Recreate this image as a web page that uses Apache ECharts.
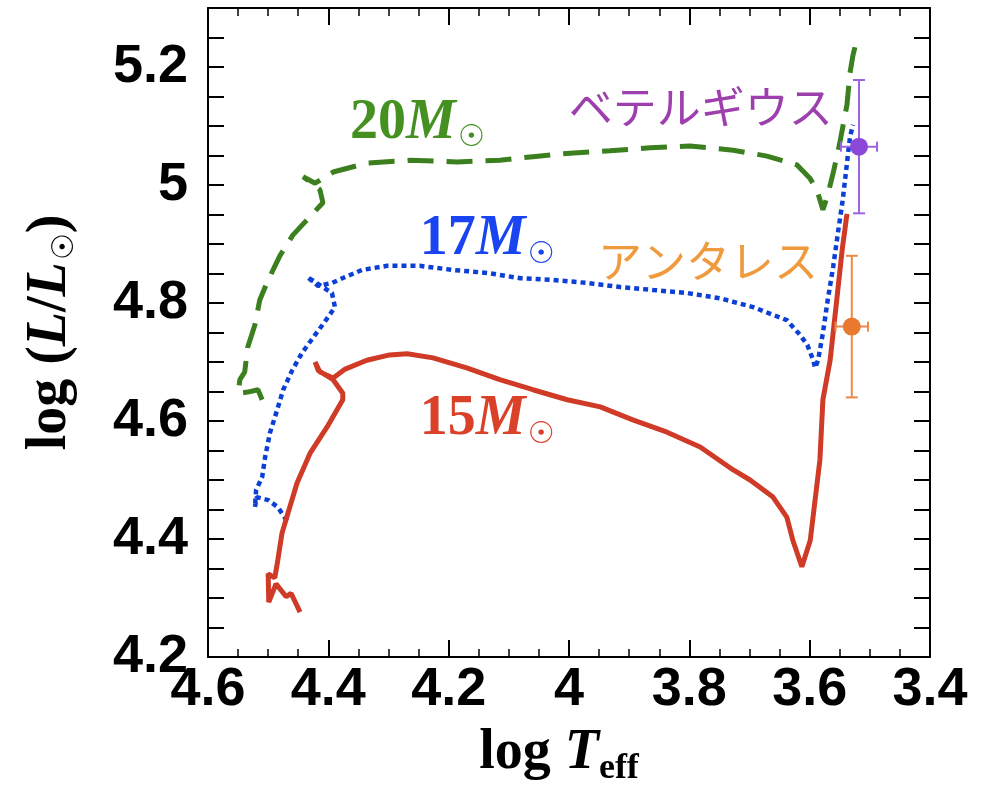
<!DOCTYPE html>
<html>
<head>
<meta charset="utf-8">
<script src="https://cdn.jsdelivr.net/npm/echarts@6/dist/echarts.min.js"></script>
<style>
  html, body { margin: 0; padding: 0; background: #fff; }
  #chart { width: 994px; height: 800px; }
</style>
</head>
<body>
<div id="chart"></div>
<script>
// Evolutionary tracks: log Teff and log(L/Lsun) along each track
const logT15 = [4.447, 4.462, 4.470, 4.487, 4.499, 4.500, 4.489, 4.484, 4.477, 4.467,
  4.452, 4.430, 4.402, 4.376, 4.376, 4.392, 4.417, 4.422, 4.414, 4.392,
  4.372, 4.336, 4.298, 4.269, 4.226, 4.170, 4.115, 4.060, 4.003, 3.948,
  3.894, 3.837, 3.782, 3.727, 3.699, 3.661, 3.638, 3.628, 3.613, 3.599,
  3.591, 3.583, 3.578, 3.566, 3.555, 3.546, 3.538];
const logL15 = [4.276, 4.308, 4.302, 4.324, 4.293, 4.341, 4.334, 4.364, 4.410, 4.444,
  4.495, 4.546, 4.590, 4.636, 4.647, 4.670, 4.686, 4.700, 4.683, 4.673,
  4.688, 4.703, 4.712, 4.714, 4.707, 4.690, 4.670, 4.653, 4.636, 4.624,
  4.602, 4.581, 4.556, 4.517, 4.500, 4.471, 4.437, 4.398, 4.353, 4.398,
  4.466, 4.534, 4.636, 4.703, 4.805, 4.890, 4.951];

const logT17 = [4.469, 4.484, 4.500, 4.519, 4.522, 4.520, 4.510, 4.505, 4.497, 4.485,
  4.475, 4.460, 4.444, 4.422, 4.406, 4.389, 4.394, 4.406, 4.435, 4.417,
  4.394, 4.372, 4.344, 4.302, 4.248, 4.193, 4.136, 4.081, 4.027, 3.970,
  3.915, 3.860, 3.804, 3.749, 3.694, 3.638, 3.616, 3.604, 3.594, 3.591,
  3.586, 3.578, 3.570, 3.561, 3.553, 3.545, 3.538, 3.533, 3.528];
const logL17 = [4.431, 4.454, 4.466, 4.471, 4.454, 4.483, 4.505, 4.539, 4.580, 4.619,
  4.653, 4.686, 4.715, 4.746, 4.768, 4.793, 4.817, 4.825, 4.844, 4.829,
  4.834, 4.844, 4.856, 4.863, 4.863, 4.856, 4.851, 4.842, 4.839, 4.834,
  4.827, 4.822, 4.817, 4.808, 4.793, 4.771, 4.746, 4.729, 4.703, 4.690,
  4.703, 4.749, 4.805, 4.861, 4.919, 4.975, 5.037, 5.081, 5.102];

const logT20 = [4.510, 4.517, 4.534, 4.550, 4.547, 4.539, 4.534, 4.522, 4.514, 4.500,
  4.480, 4.459, 4.439, 4.409, 4.414, 4.430, 4.442, 4.422, 4.392, 4.336,
  4.264, 4.186, 4.115, 4.060, 3.998, 3.932, 3.865, 3.799, 3.727, 3.671,
  3.621, 3.600, 3.588, 3.578, 3.570, 3.561, 3.550, 3.538, 3.533, 3.528, 3.521];
const logL20 = [4.636, 4.653, 4.649, 4.647, 4.670, 4.683, 4.725, 4.763, 4.805, 4.839,
  4.881, 4.915, 4.937, 4.970, 4.992, 5.005, 5.014, 5.003, 5.022, 5.037,
  5.042, 5.039, 5.042, 5.048, 5.054, 5.058, 5.063, 5.066, 5.059, 5.049,
  5.034, 5.012, 4.992, 4.958, 4.983, 5.020, 5.071, 5.136, 5.190, 5.220, 5.249];

// Observed red supergiants with uncertainties
const starNames    = ['ベテルギウス', 'アンタレス'];
const starLogT     = [3.518, 3.530];
const starLogTErr  = [0.030, 0.027];
const starLogL     = [5.065, 4.760];
const starLogLErr  = [0.113, 0.120];
const starLabelT   = [3.781, 3.769];
const starLabelL   = [5.131, 4.871];

// Track mass labels
const massLabels   = ['20', '17', '15'];
const massLabelT   = [4.252, 4.136, 4.136];
const massLabelL   = [5.105, 4.907, 4.602];

// Axis ticks
const xTicks = [4.6, 4.4, 4.2, 4.0, 3.8, 3.6, 3.4];
const yTicks = [4.2, 4.4, 4.6, 4.8, 5.0, 5.2];

const C = {
  g: '#3b7f1f', gLab: '#449021',
  b: '#0b3fd6', bLab: '#1a44f2',
  r: '#cf3b27', rLab: '#db4029',
  betText: '#9e3fae', betPt: '#8b48d9', betBar: '#9d63e0',
  antText: '#f09a3e', antPt: '#e8792f', antBar: '#ea8a48'
};
const massColors = [C.gLab, C.bLab, C.rLab];

const zip = (xs, ys) => xs.map((x, i) => [x, ys[i]]);

const serifB = 'Liberation Serif';
function massRich(color) {
  return {
    n: { fontFamily: serifB, fontWeight: 'bold', fontSize: 56, color: color },
    m: { fontFamily: serifB, fontWeight: 'bold', fontStyle: 'italic', fontSize: 56, color: color },
    s: { fontFamily: 'DejaVu Sans', fontSize: 30, color: color, padding: [30, 0, 0, 2] }
  };
}

const chart = echarts.init(document.getElementById('chart'), null, { renderer: 'canvas' });

const axisCommon = {
  type: 'value',
  axisLine: { show: true, onZero: false, lineStyle: { color: '#000', width: 2 } },
  splitLine: { show: false },
  minorSplitLine: { show: false }
};
const tickLabelStyle = {
  color: '#000', fontFamily: 'Liberation Sans', fontWeight: 'bold', fontSize: 54
};
const isTick = (v, list) => list.some(t => Math.abs(t - v) < 1e-6);
const fmt = v => String(Math.round(v * 10) / 10);

const option = {
  animation: false,
  backgroundColor: '#fff',
  grid: { left: 208, right: 64, top: 8, bottom: 143, containLabel: false, outerBoundsMode: 'none' },
  xAxis: [
    Object.assign({}, axisCommon, {
      position: 'bottom', min: 3.4, max: 4.6, interval: 0.2, inverse: true,
      axisTick: { show: true, inside: true, length: 17, lineStyle: { color: '#000', width: 2 } },
      minorTick: { show: true, splitNumber: 4, length: 8, lineStyle: { color: '#000', width: 1.5 } },
      axisLabel: Object.assign({}, tickLabelStyle, {
        margin: 6, interval: 0, hideOverlap: false, showMinLabel: true, showMaxLabel: true,
        formatter: v => isTick(v, xTicks) ? fmt(v) : ''
      }),
      name: '{a|log }{t|T}{s|eff}',
      nameLocation: 'middle',
      nameGap: 64,
      nameTextStyle: {
        padding: [0, 20, 0, 0],
        rich: {
          a: { fontFamily: serifB, fontWeight: 'bold', fontSize: 56, color: '#000' },
          t: { fontFamily: serifB, fontWeight: 'bold', fontStyle: 'italic', fontSize: 56, color: '#000' },
          s: { fontFamily: serifB, fontWeight: 'bold', fontSize: 36, color: '#000', padding: [30, 0, 0, 0] }
        }
      }
    }),
    Object.assign({}, axisCommon, {
      position: 'top', min: 3.4, max: 4.6, interval: 0.2, inverse: true,
      axisTick: { show: true, inside: true, length: 17, lineStyle: { color: '#000', width: 2 } },
      minorTick: { show: true, splitNumber: 4, length: 8, lineStyle: { color: '#000', width: 1.5 } },
      axisLabel: { show: false }
    })
  ],
  yAxis: [
    Object.assign({}, axisCommon, {
      position: 'left', min: 4.2, max: 5.3, interval: 0.05,
      axisTick: { show: true, inside: true, length: 16, lineStyle: { color: '#000', width: 2 } },
      axisLabel: Object.assign({}, tickLabelStyle, {
        margin: 20, interval: 0, hideOverlap: false, showMinLabel: true, showMaxLabel: true,
        formatter: v => isTick(v, yTicks) ? fmt(v) : ''
      }),
      name: '{a|log (}{i|L}{a|/}{i|L}{s|☉}{a|)}',
      nameLocation: 'middle',
      nameGap: 128,
      nameTextStyle: {
        rich: {
          a: { fontFamily: serifB, fontWeight: 'bold', fontSize: 56, color: '#000' },
          i: { fontFamily: serifB, fontWeight: 'bold', fontStyle: 'italic', fontSize: 56, color: '#000' },
          s: { fontFamily: 'DejaVu Sans', fontSize: 30, color: '#000', padding: [28, 0, 0, 2] }
        }
      }
    }),
    Object.assign({}, axisCommon, {
      position: 'right', min: 4.2, max: 5.3, interval: 0.05,
      axisTick: { show: true, inside: true, length: 16, lineStyle: { color: '#000', width: 2 } },
      axisLabel: { show: false }
    })
  ],
  series: [
    {
      name: '20M', type: 'line', data: zip(logT20, logL20),
      showSymbol: false, symbol: 'none', z: 3,
      lineStyle: { color: C.g, width: 5, type: [26, 13], cap: 'butt' }
    },
    {
      name: '17M', type: 'line', data: zip(logT17, logL17),
      showSymbol: false, symbol: 'none', z: 4,
      lineStyle: { color: C.b, width: 4.5, type: [5, 4], cap: 'butt' }
    },
    {
      name: '15M', type: 'line', data: zip(logT15, logL15),
      showSymbol: false, symbol: 'none', z: 5,
      lineStyle: { color: C.r, width: 5, type: 'solid' }
    },
    {
      // error bars for the two stars
      name: 'errors', type: 'custom', z: 6, silent: true,
      data: starNames.map((n, i) => ({
        value: [starLogT[i], starLogL[i], starLogTErr[i], starLogLErr[i]],
        itemStyle: { color: i === 0 ? C.betBar : C.antBar }
      })),
      encode: { x: 0, y: 1 },
      renderItem: function (params, api) {
        const x = api.value(0), y = api.value(1), dx = api.value(2), dy = api.value(3);
        const top = api.coord([x, y + dy]), bot = api.coord([x, y - dy]);
        const lft = api.coord([x + dx, y]), rgt = api.coord([x - dx, y]);
        const color = api.visual('color');
        const st = { stroke: color, lineWidth: 2 };
        const capW = 6, capH = 5;
        const seg = (x1, y1, x2, y2) => ({ type: 'line', shape: { x1, y1, x2, y2 }, style: st });
        return {
          type: 'group',
          children: [
            seg(top[0], top[1], bot[0], bot[1]),
            seg(top[0] - capW, top[1], top[0] + capW, top[1]),
            seg(bot[0] - capW, bot[1], bot[0] + capW, bot[1]),
            seg(lft[0], lft[1], rgt[0], rgt[1]),
            seg(lft[0], lft[1] - capH, lft[0], lft[1] + capH),
            seg(rgt[0], rgt[1] - capH, rgt[0], rgt[1] + capH)
          ]
        };
      }
    },
    {
      name: 'stars', type: 'scatter', z: 7, symbolSize: 18,
      itemStyle: { opacity: 1 },
      data: starNames.map((n, i) => ({
        name: n, value: [starLogT[i], starLogL[i]],
        itemStyle: { color: i === 0 ? C.betPt : C.antPt, opacity: 1 }
      }))
    },
    {
      name: 'starLabels', type: 'scatter', z: 8, symbolSize: 1, silent: true,
      itemStyle: { color: 'rgba(0,0,0,0)', opacity: 1 },
      data: starNames.map((n, i) => ({
        name: n, value: [starLabelT[i], starLabelL[i]],
        label: {
          show: true, position: 'inside', formatter: n,
          fontFamily: 'Noto Sans CJK JP', fontSize: 44, fontWeight: 'normal',
          color: i === 0 ? C.betText : C.antText
        }
      }))
    },
    {
      name: 'massLabels', type: 'scatter', z: 8, symbolSize: 1, silent: true,
      itemStyle: { color: 'rgba(0,0,0,0)', opacity: 1 },
      data: massLabels.map((m, i) => ({
        value: [massLabelT[i], massLabelL[i]],
        label: {
          show: true, position: 'inside',
          formatter: '{n|' + m + '}{m|M}{s|☉}',
          rich: massRich(massColors[i])
        }
      }))
    }
  ]
};

chart.setOption(option);
</script>
</body>
</html>
